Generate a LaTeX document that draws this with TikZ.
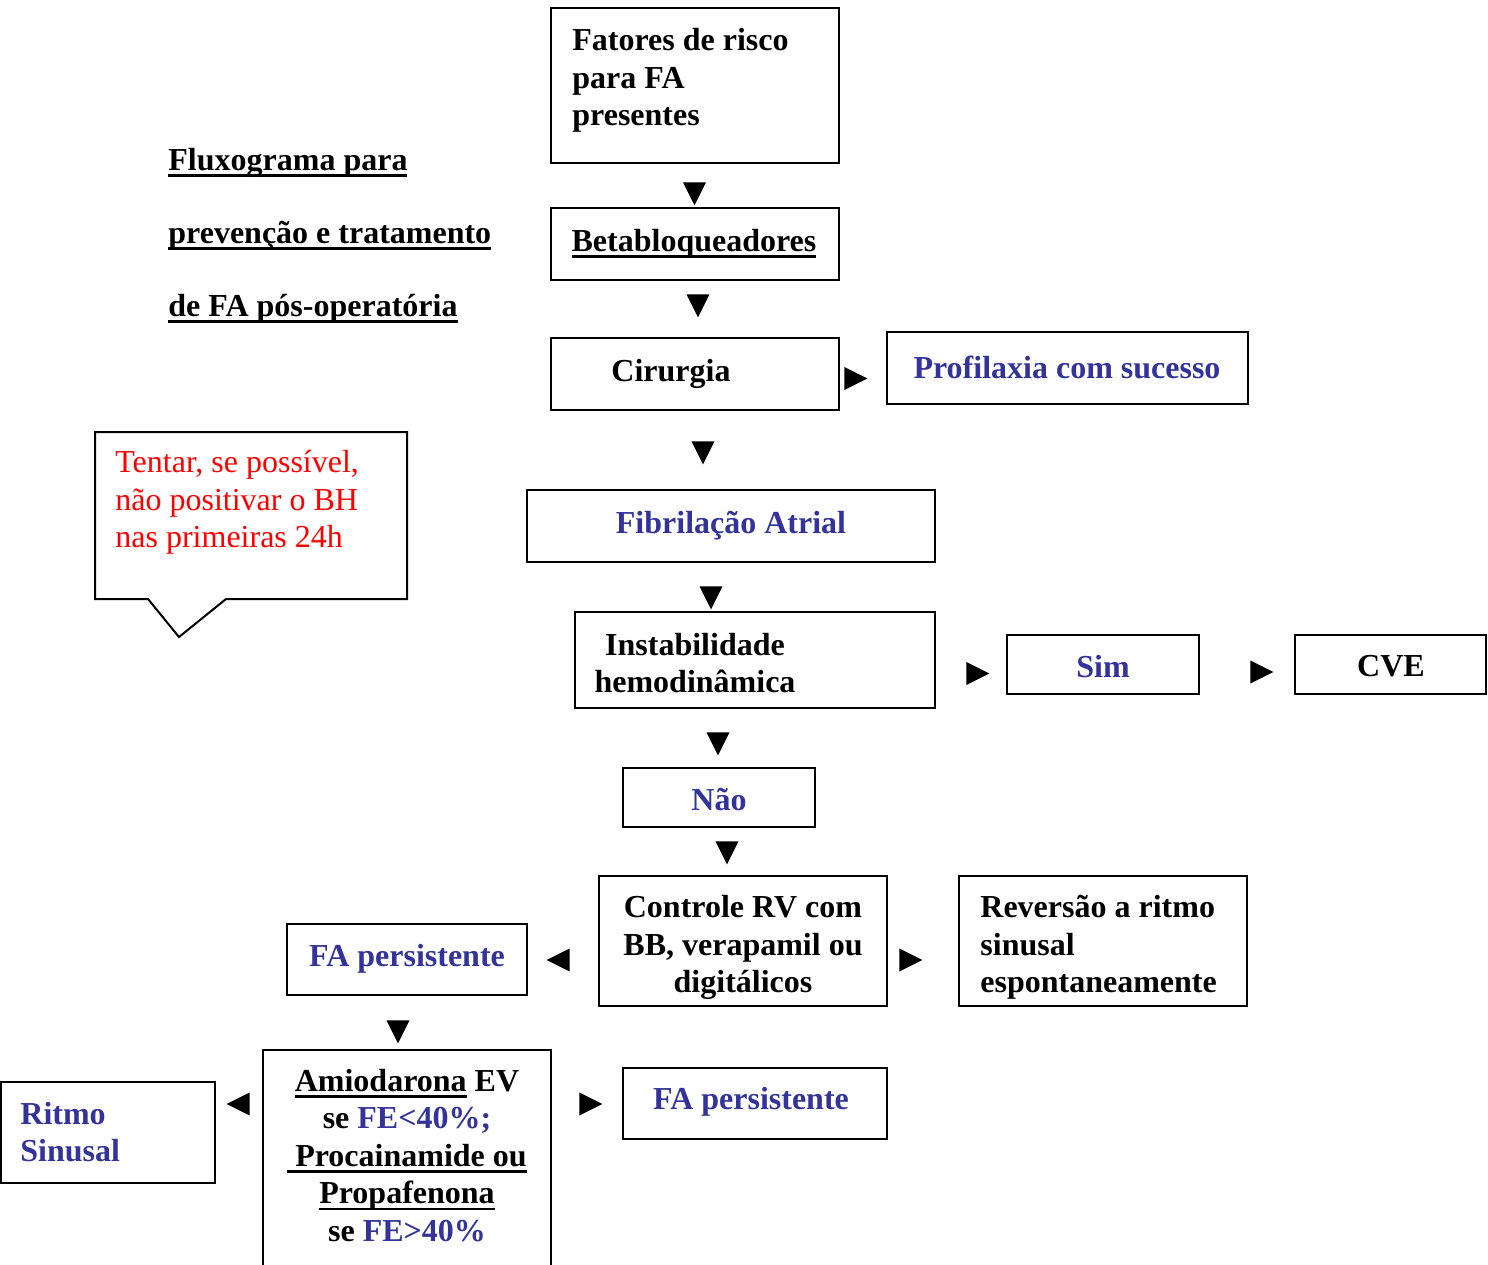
\documentclass[tikz,border=0pt]{standalone}
\usepackage{fontspec}
\setmainfont{Liberation Serif}
\usetikzlibrary{shapes.geometric,fit}
\definecolor{fblue}{HTML}{333399}
\definecolor{fred}{HTML}{FF0000}
\newcommand{\myul}[1]{\setbox0\hbox{#1}\leavevmode\rlap{\vrule height -1.8pt depth 3.2pt width \wd0}\box0\relax}
\begin{document}
\begin{tikzpicture}[x=0.5pt,y=-0.5pt,
  box/.style={draw,line width=1pt,inner sep=0pt},
  txt/.style={inner sep=0pt,yshift=-1.75pt,font=\fontsize{16}{18.75}\selectfont\bfseries},
  tri/.style={isosceles triangle,isosceles triangle stretches,minimum width=11.5pt,minimum height=11.5pt,fill=black,draw=none,inner sep=0pt},
  dn/.style={tri,shape border rotate=-90,yshift=1.75pt},
  rt/.style={tri,xshift=-1.75pt},
  lt/.style={tri,shape border rotate=180,xshift=1.75pt}]
\useasboundingbox (0,0) rectangle (1488,1264);
\clip (0,0) rectangle (1488,1264);

% boxes
\node[box,fit={(551,8)(839,163)}] (fat) {};
\node[box,fit={(551,208)(839,280)}] (bet) {};
\node[box,fit={(551,338)(839,410)}] (cir) {};
\node[box,fit={(887,332)(1248,404)}] (pro) {};
\node[box,fit={(527,490)(935,562)}] (fib) {};
\node[box,fit={(575,612)(935,708)}] (ins) {};
\node[box,fit={(1007,635)(1199,694)}] (sim) {};
\node[box,fit={(1295,635)(1486,694)}] (cve) {};
\node[box,fit={(623,768)(815,827)}] (nao) {};
\node[box,fit={(599,876)(887,1006)}] (con) {};
\node[box,fit={(959,876)(1247,1006)}] (rev) {};
\node[box,fit={(287,924)(527,995)}] (fa1) {};
\node[box,fit={(263,1050)(551,1300)}] (ami) {};
\node[box,fit={(1,1082)(215,1183)}] (rit) {};
\node[box,fit={(623,1068)(887,1139)}] (fa2) {};

% callout
\draw[line width=1pt] (95,432) -- (407,432) -- (407,599) -- (226,599) -- (179,637) -- (148,599) -- (95,599) -- cycle;
\node[inner sep=0pt,anchor=west,align=left,text=fred,yshift=-1.75pt,font=\fontsize{16}{18.75}\selectfont] (call-t) at (115,499)
  {Tentar, se possível,\\não positivar o BH\\nas primeiras 24h};

% title
\node[inner sep=0pt,anchor=west,align=left,yshift=-1.5pt,font=\fontsize{16}{36.5}\selectfont\bfseries] (title) at (168,233)
  {\myul{Fluxograma para}\\\myul{prevenção e tratamento}\\\myul{de FA pós-operatória}};

% texts
\node[txt,anchor=west,align=left] (fat-t) at (572,77) {Fatores de risco\\para FA\\presentes};
\node[txt] (bet-t) at (694,240) {\myul{Betabloqueadores}};
\node[txt] (cir-t) at (671,370) {Cirurgia};
\node[txt,text=fblue] (pro-t) at (1067,364) {Profilaxia com sucesso};
\node[txt,text=fblue] (fib-t) at (731,522) {Fibrilação Atrial};
\node[txt,align=center] (ins-t) at (695,659.5) {Instabilidade\\hemodinâmica};
\node[txt,text=fblue] (sim-t) at (1103,663) {Sim};
\node[txt] (cve-t) at (1391,663) {CVE};
\node[txt,text=fblue] (nao-t) at (719,796) {Não};
\node[txt,align=center] (con-t) at (743,944) {Controle RV com\\BB, verapamil ou\\digitálicos};
\node[txt,anchor=west,align=left] (rev-t) at (980,944) {Reversão a ritmo\\sinusal\\espontaneamente};
\node[txt,text=fblue] (fa1-t) at (407,955) {FA persistente};
\node[txt,align=center] (ami-t) at (407,1152) {\myul{Amiodarona} EV\\se \textcolor{fblue}{FE<40\%;}\\\myul{\ Procainamide ou}\\\myul{Propafenona}\\se \textcolor{fblue}{FE>40\%}};
\node[txt,anchor=west,align=left,text=fblue] (rit-t) at (20,1128.5) {Ritmo\\Sinusal};
\node[txt,text=fblue] (fa2-t) at (751,1098) {FA persistente};

% arrow triangles
\node[dn] (a1) at (694.5,193) {};
\node[dn] (a2) at (698,305) {};
\node[rt] (a3) at (855,378.5) {};
\node[dn] (a4) at (703,452) {};
\node[dn] (a5) at (711,597) {};
\node[rt] (a6) at (977,673.5) {};
\node[rt] (a7) at (1261,672) {};
\node[dn] (a8) at (718,743) {};
\node[dn] (a9) at (727,852) {};
\node[lt] (a10) at (559,960) {};
\node[rt] (a11) at (910,960) {};
\node[dn] (a12) at (398,1031) {};
\node[lt] (a13) at (239,1104) {};
\node[rt] (a14) at (590,1104) {};
\end{tikzpicture}
\end{document}
